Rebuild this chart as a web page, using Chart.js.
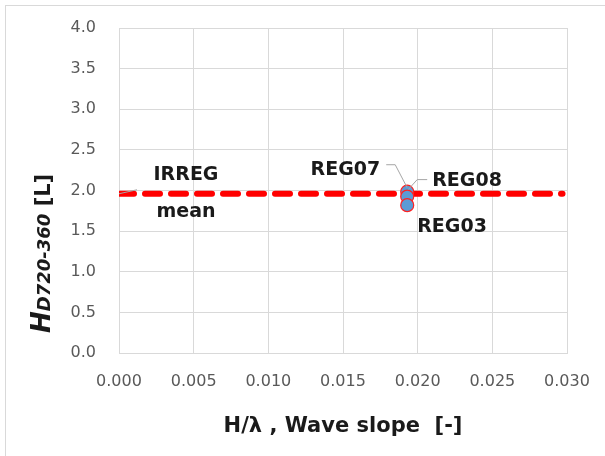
<!DOCTYPE html>
<html>
<head>
<meta charset="utf-8">
<script src="https://cdn.jsdelivr.net/npm/chart.js@4.4.1/dist/chart.umd.min.js"></script>
<style>
  html, body { margin: 0; padding: 0; background: #fff; }
  #wrap { width: 605px; height: 456px; position: relative; }
</style>
</head>
<body>
<div id="wrap"><canvas id="c" width="605" height="456"></canvas></div>
<script>
// ---- data ----
const regLabels = ['REG07', 'REG08', 'REG03'];
const regSlopes = [0.0193, 0.0193, 0.0193];
const regHD     = [1.985, 1.925, 1.82];
const meanLabel = ['IRREG', 'mean'];
const meanSlopes = [0.0, 0.0297];
const meanHD     = [1.96, 1.96];
const xTicks = [0.000, 0.005, 0.010, 0.015, 0.020, 0.025, 0.030];
const yTicks = [0.0, 0.5, 1.0, 1.5, 2.0, 2.5, 3.0, 3.5, 4.0];
const xTitle = 'H/\u03BB , Wave slope  [-]';
const yTitleMain = 'H';
const yTitleSub = 'D720-360';
const yTitleUnit = ' [L]';

const regPoints = regSlopes.map((x, i) => ({ x: x, y: regHD[i] }));
const meanPoints = meanSlopes.map((x, i) => ({ x: x, y: meanHD[i] }));

const FONT = "'DejaVu Sans', sans-serif";
const GRID = '#D9D9D9';

const decor = {
  id: 'decor',
  beforeDraw(chart) {
    const ctx = chart.ctx;
    ctx.save();
    ctx.fillStyle = '#fff';
    ctx.fillRect(0, 0, chart.width, chart.height);
    ctx.strokeStyle = GRID;
    ctx.lineWidth = 1;
    ctx.strokeRect(5.5, 5.5, 800, 800);
    ctx.restore();
  },
  afterDraw(chart) {
    const ctx = chart.ctx;
    const xs = chart.scales.x, ys = chart.scales.y;
    ctx.save();
    // leader lines
    ctx.strokeStyle = '#A6A6A6';
    ctx.lineWidth = 1;
    const p0 = { x: xs.getPixelForValue(regSlopes[0]), y: ys.getPixelForValue(regHD[0]) };
    const p1 = { x: xs.getPixelForValue(regSlopes[1]), y: ys.getPixelForValue(regHD[1]) };
    const p2 = { x: xs.getPixelForValue(regSlopes[2]), y: ys.getPixelForValue(regHD[2]) };
    const m0 = { x: xs.getPixelForValue(meanSlopes[0]), y: ys.getPixelForValue(meanHD[0]) };
    ctx.beginPath();
    ctx.moveTo(p0.x - 21, p0.y - 27); ctx.lineTo(p0.x - 12, p0.y - 27); ctx.lineTo(p0.x, p0.y - 4);
    ctx.stroke();
    ctx.beginPath();
    ctx.moveTo(p1.x + 20, p1.y - 17); ctx.lineTo(p1.x + 10, p1.y - 17); ctx.lineTo(p1.x + 1, p1.y - 7);
    ctx.stroke();
    ctx.beginPath();
    ctx.moveTo(m0.x, m0.y); ctx.lineTo(m0.x + 18, m0.y - 4);
    ctx.stroke();

    // data labels
    ctx.fillStyle = '#1a1a1a';
    ctx.font = "bold 19px " + FONT;
    ctx.textBaseline = 'middle';
    ctx.textAlign = 'right';
    ctx.fillText(regLabels[0], p0.x - 27, p0.y - 22);
    ctx.textAlign = 'left';
    ctx.fillText(regLabels[1], p1.x + 25, p1.y - 16);
    ctx.fillText(regLabels[2], p2.x + 10, p2.y + 22);
    ctx.textAlign = 'center';
    ctx.fillText(meanLabel[0], m0.x + 67, m0.y - 19);
    ctx.fillText(meanLabel[1], m0.x + 67, m0.y + 18);

    // y axis title (rotated, with subscript)
    ctx.translate(50, 333);
    ctx.rotate(-Math.PI / 2);
    ctx.textAlign = 'left';
    ctx.textBaseline = 'alphabetic';
    ctx.fillStyle = '#1a1a1a';
    ctx.font = "italic bold 26px " + FONT;
    ctx.fillText(yTitleMain, 0, 0);
    let w = ctx.measureText(yTitleMain).width;
    ctx.font = "italic bold 18px " + FONT;
    ctx.fillText(yTitleSub, w, 0);
    w += ctx.measureText(yTitleSub).width;
    ctx.font = "bold 21px " + FONT;
    ctx.fillText(yTitleUnit, w, 0);
    ctx.restore();
  }
};

new Chart(document.getElementById('c'), {
  type: 'scatter',
  data: {
    datasets: [
      {
        label: 'REG',
        data: regPoints,
        backgroundColor: '#5B9BD5',
        borderColor: '#FF2020',
        borderWidth: 1.2,
        pointRadius: 6.5,
        showLine: false
      },
      {
        label: 'IRREG mean',
        data: meanPoints,
        showLine: true,
        borderColor: '#FF0000',
        borderWidth: 6,
        borderDash: [15, 11],
        borderCapStyle: 'round',
        pointRadius: 0,
        fill: false
      }
    ]
  },
  options: {
    responsive: false,
    animation: false,
    events: [],
    layout: { padding: { left: 0, right: 38, top: 28, bottom: 0 } },
    plugins: { legend: { display: false }, tooltip: { enabled: false } },
    scales: {
      x: {
        type: 'linear',
        min: xTicks[0], max: xTicks[xTicks.length - 1],
        afterBuildTicks: (s) => { s.ticks = xTicks.map(v => ({ value: v })); },
        afterFit: (s) => { s.height = 103; s.paddingLeft = 0; s.paddingRight = 0; },
        grid: { color: GRID, drawTicks: false },
        border: { color: GRID },
        ticks: {
          padding: 19,
          color: '#595959',
          font: { family: FONT, size: 16 },
          callback: (v) => Number(v).toFixed(3)
        },
        title: {
          display: true,
          text: xTitle,
          color: '#1a1a1a',
          font: { family: FONT, size: 21, weight: 'bold' },
          padding: { top: 0, bottom: 17 }
        }
      },
      y: {
        type: 'linear',
        min: yTicks[0], max: yTicks[yTicks.length - 1],
        afterBuildTicks: (s) => { s.ticks = yTicks.map(v => ({ value: v })); },
        afterFit: (s) => { s.width = 119; s.paddingTop = 0; s.paddingBottom = 0; },
        grid: { color: GRID, drawTicks: false },
        border: { color: GRID },
        ticks: {
          padding: 23,
          color: '#595959',
          font: { family: FONT, size: 16 },
          callback: (v) => Number(v).toFixed(1)
        },
        title: { display: false }
      }
    }
  },
  plugins: [decor]
});
</script>
</body>
</html>
